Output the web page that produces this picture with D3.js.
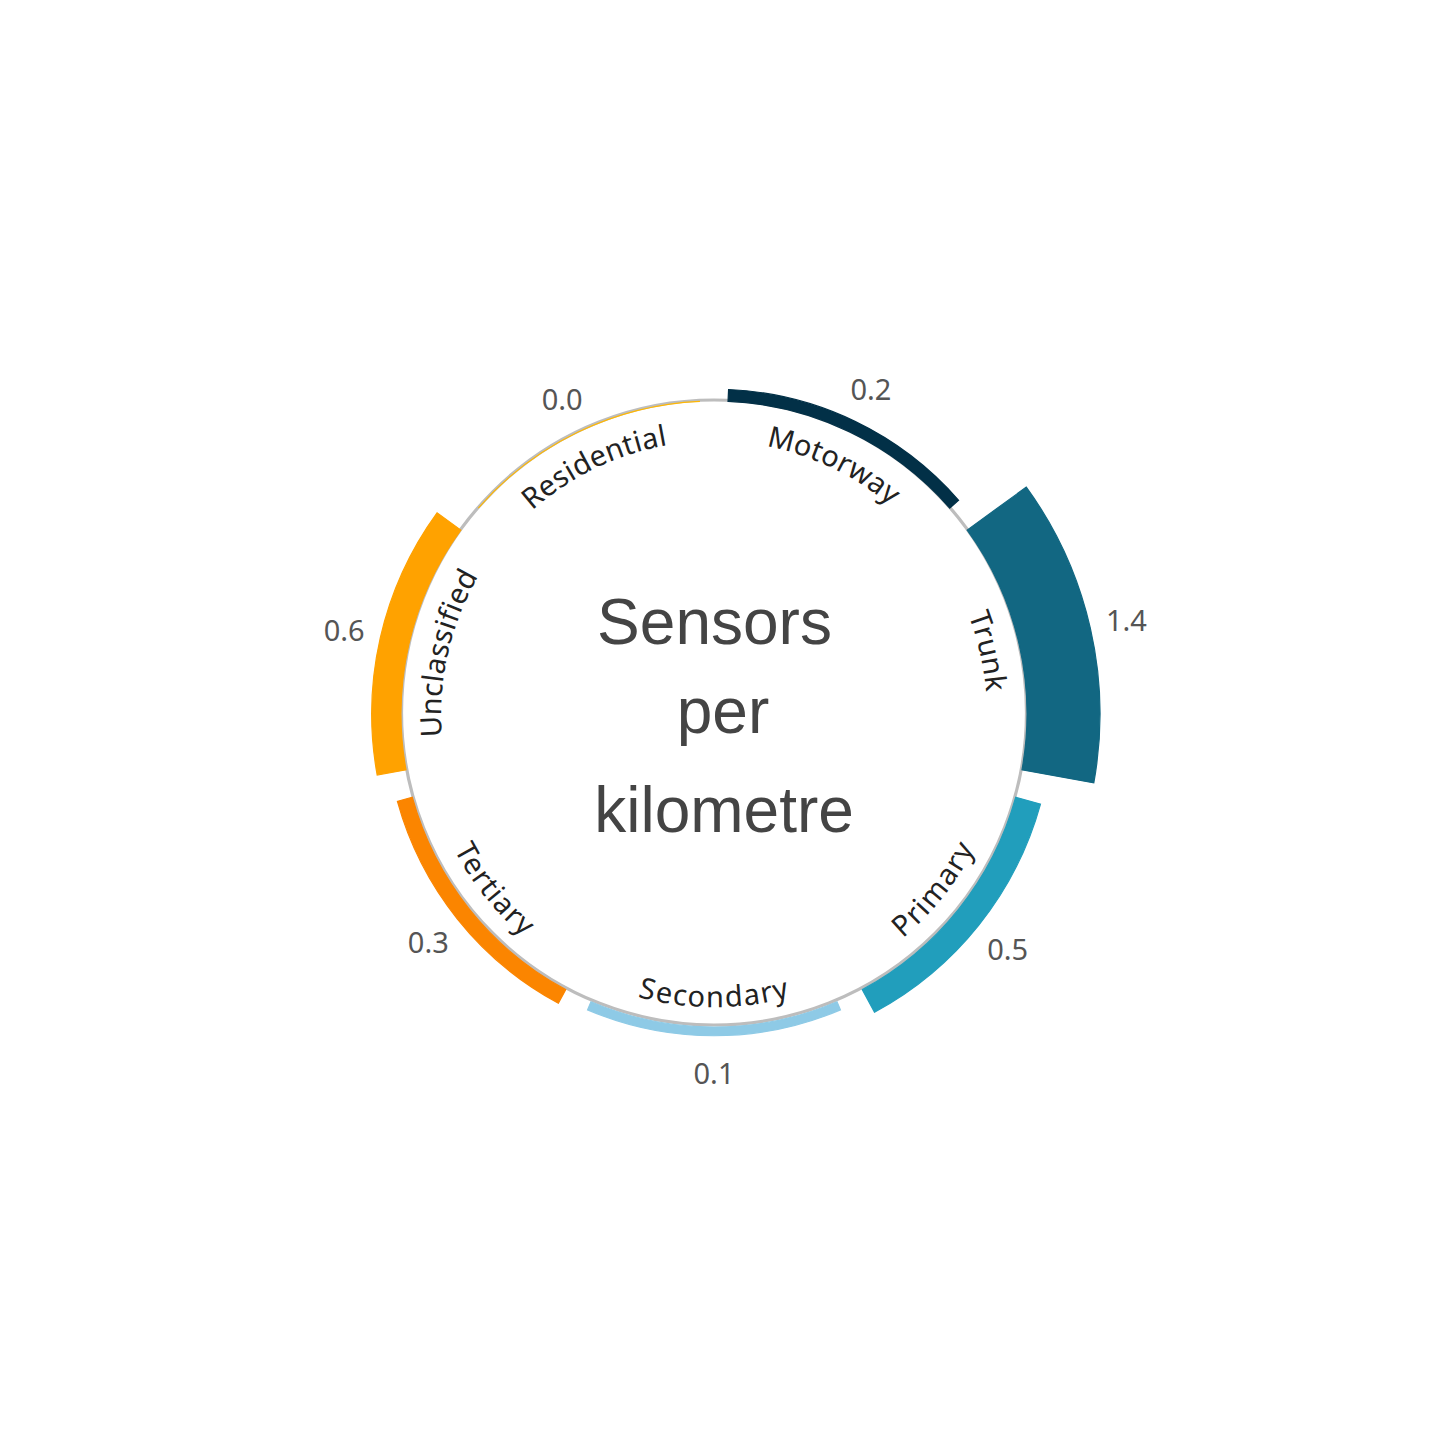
<!DOCTYPE html>
<html>
<head>
<meta charset="utf-8">
<script src="https://cdn.jsdelivr.net/npm/d3@7"></script>
<style>
  html, body { margin: 0; padding: 0; background: #fff; }
  svg { display: block; }
</style>
</head>
<body>
<svg id="chart" width="1429" height="1429"></svg>
<script>
// ---- data ----
const categories = ["Motorway", "Trunk", "Primary", "Secondary", "Tertiary", "Unclassified", "Residential"];
const values = [0.23, 1.42, 0.5, 0.17, 0.3, 0.57, 0.0];
const valueLabels = ["0.2", "1.4", "0.5", "0.1", "0.3", "0.6", "0.0"];
const colors = ["#023047", "#126782", "#219ebc", "#8ecae6", "#fb8500", "#ffa200", "#ffb703"];
const titleLines = ["Sensors", "per", "kilometre"];

// ---- layout ----
const W = 1429, H = 1429;
const cx = 714, cy = 714;
const innerR = 313;

const svg = d3.select("#chart");
const g = svg.append("g").attr("transform", `translate(${cx},${cy})`);

const angle = d3.scaleBand()
  .domain(categories)
  .range([0, 2 * Math.PI])
  .paddingInner(0.1)
  .paddingOuter(0.05);

const radius = d3.scaleLinear()
  .domain([0, 1.42])
  .range([innerR, 386]);

const data = categories.map((c, i) => ({
  cat: c, value: values[i], label: valueLabels[i], color: colors[i],
  start: angle(c), end: angle(c) + angle.bandwidth(),
  mid: angle(c) + angle.bandwidth() / 2
}));

// base circle
g.append("circle")
  .attr("cx", 0).attr("cy", -1.5)
  .attr("r", 312.5)
  .attr("fill", "none")
  .attr("stroke", "#bdbdbd")
  .attr("stroke-width", 3.2);

// bars
const arc = d3.arc()
  .innerRadius(innerR)
  .outerRadius(d => radius(d.value))
  .startAngle(d => d.start)
  .endAngle(d => d.end);

g.selectAll("path.bar")
  .data(data)
  .join("path")
  .attr("class", "bar")
  .attr("d", arc)
  .attr("fill", d => d.color)
  .attr("stroke", d => d.color)
  .attr("stroke-width", 1.2);

// value labels
g.selectAll("text.val")
  .data(data)
  .join("text")
  .attr("class", "val")
  .attr("x", d => Math.sin(d.mid) * (radius(d.value) + 37))
  .attr("y", d => -Math.cos(d.mid) * (radius(d.value) + 37))
  .attr("text-anchor", "middle")
  .attr("dominant-baseline", "central")
  .attr("font-family", "'Noto Sans', 'Open Sans', sans-serif")
  .attr("font-size", 29)
  .attr("fill", "#555555")
  .text(d => d.label);

// category labels along arcs
const labelR = 283;
function pt(a, r) { return [Math.sin(a) * r, -Math.cos(a) * r]; }
const defs = svg.append("defs");
data.forEach((d, i) => {
  const flip = d.mid > Math.PI / 2 && d.mid < 3 * Math.PI / 2;
  const span = Math.PI / 5;
  const a1 = d.mid - span, a2 = d.mid + span;
  let p;
  if (!flip) {
    const s = pt(a1, labelR), e = pt(a2, labelR);
    p = `M${s[0]},${s[1]} A${labelR},${labelR} 0 0 1 ${e[0]},${e[1]}`;
  } else {
    const s = pt(a2, labelR), e = pt(a1, labelR);
    p = `M${s[0]},${s[1]} A${labelR},${labelR} 0 0 0 ${e[0]},${e[1]}`;
  }
  defs.append("path")
    .attr("id", "lp" + i)
    .attr("d", p)
    .attr("transform", `translate(${cx},${cy})`);
});

svg.append("g").selectAll("text.cat")
  .data(data)
  .join("text")
  .attr("class", "cat")
  .attr("dy", "0.35em")
  .attr("font-family", "'Noto Sans', 'Open Sans', sans-serif")
  .attr("font-size", 29)
  .attr("letter-spacing", 0.8)
  .attr("fill", "#222222")
  .append("textPath")
  .attr("href", (d, i) => "#lp" + i)
  .attr("startOffset", "50%")
  .attr("text-anchor", "middle")
  .text(d => d.cat);

// centre title
const titleX = [0.5, 9, 10];
const titleY = [-70, 19, 118];
g.selectAll("text.title")
  .data(titleLines)
  .join("text")
  .attr("class", "title")
  .attr("x", (d, i) => titleX[i])
  .attr("y", (d, i) => titleY[i])
  .attr("text-anchor", "middle")
  .attr("font-family", "'Liberation Sans', Arial, sans-serif")
  .attr("font-size", 64)
  .attr("fill", "#444444")
  .text(d => d);
</script>
</body>
</html>
